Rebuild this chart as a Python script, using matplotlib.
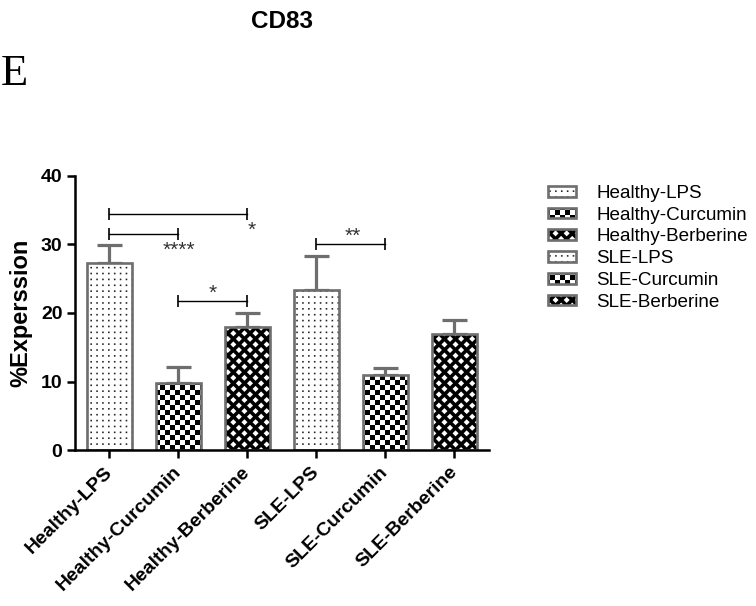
import numpy as np
import matplotlib
matplotlib.use("Agg")
import matplotlib.pyplot as plt
import matplotlib.hatch as mhatch
from matplotlib.path import Path
from matplotlib import colors as mcolors

# data
groups = ["Healthy-LPS", "Healthy-Curcumin", "Healthy-Berberine",
          "SLE-LPS", "SLE-Curcumin", "SLE-Berberine"]
means = [27.3, 9.8, 18.0, 23.4, 11.0, 16.9]
errs = [2.6, 2.3, 2.0, 4.9, 1.0, 2.1]

# significance brackets: (left group, right group, height), labels and where they sit
sig_pairs = [(0, 2, 34.5), (0, 1, 31.5), (1, 2, 21.8), (3, 4, 30.1)]
sig_labels = ["*", "****", "*", "**"]
sig_label_pos = [(2.06, 32.0), (1.0, 29.2), (1.5, 22.9), (3.52, 31.2)]


# custom fills (GraphPad-like patterns) built as hatch paths
def _squares(centers, half):
    return [[(cx - half, cy - half), (cx + half, cy - half),
             (cx + half, cy + half), (cx - half, cy + half)] for cx, cy in centers]


class _PolyHatch(mhatch.HatchPatternBase):
    char = None

    def __init__(self, hatch, density):
        self.polys = self.make() if (hatch and self.char in hatch) else []
        self.num_vertices = 5 * len(self.polys)

    def set_vertices_and_codes(self, vertices, codes):
        pts = np.array(self.polys, dtype=float)
        pts = np.concatenate([pts, pts[:, :1]], axis=1)
        vertices[:] = pts.reshape(-1, 2)
        codes[:] = np.tile([Path.MOVETO, Path.LINETO, Path.LINETO,
                            Path.LINETO, Path.CLOSEPOLY], len(self.polys))


class Dots(_PolyHatch):
    char = "."

    def make(self):
        n = 17
        c = [((i + .5) / n, (j + .5) / n) for i in range(n) for j in range(n)]
        return _squares(c, 0.008)


class Checker(_PolyHatch):
    char = "+"

    def make(self):
        n = 20
        c = [((i + .5) / n, (j + .5) / n) for i in range(n) for j in range(n)
             if (i + j) % 2 == 0]
        return _squares(c, 0.5 / n)


class Diamonds(_PolyHatch):
    char = "x"

    def make(self):
        n, r = 9, 0.03
        c = [(i / n, j / n) for i in range(n + 1) for j in range(n + 1)]
        c += [((i + .5) / n, (j + .5) / n) for i in range(n) for j in range(n)]
        return [[(cx, cy - r), (cx + r, cy), (cx, cy + r), (cx - r, cy)] for cx, cy in c]


mhatch._hatch_types[:] = [Dots, Checker, Diamonds]

plt.rcParams['font.family'] = ['Liberation Sans', 'DejaVu Sans']
plt.rcParams['hatch.linewidth'] = 0.01

hatches = [".", "+", "x", ".", "+", "x"]
faces = ["white", "white", "black", "white", "white", "black"]
hatch_cols = ["#222222", "black", "white", "#222222", "black", "white"]
edge = "#6e6e6e"

fig = plt.figure(figsize=(7.56, 6.06), dpi=100)
ax = fig.add_axes([0.0992, 0.2574, 0.5476, 0.4522])

x = np.arange(len(groups))
ax.errorbar(x, means, yerr=[np.zeros(len(errs)), errs], fmt='none',
            ecolor=edge, elinewidth=2.3, capsize=9, capthick=2.3, zorder=1)
for i, name in enumerate(groups):
    b = ax.bar(x[i], means[i], width=0.65, color=faces[i], edgecolor=edge,
               linewidth=1.9, hatch=hatches[i], label=name, zorder=2)
    for p in b:
        p._hatch_color = mcolors.to_rgba(hatch_cols[i])

for (a, b, h), lab, (tx, ty) in zip(sig_pairs, sig_labels, sig_label_pos):
    ax.plot([a, b], [h, h], color='black', lw=1.0, marker='|',
            markersize=9, mew=1.2, zorder=3)
    ax.text(tx, ty, lab, ha='center', va='center', fontsize=15, color='#333333')

ax.set_xlim(-0.5, 5.5)
ax.set_ylim(0, 40)
ax.set_yticks([0, 10, 20, 30, 40])
ax.set_xticks(x)
ax.set_xticklabels(groups, rotation=45, ha='right', va='center',
                   rotation_mode='anchor', fontweight='bold', fontsize=14)
for t in ax.get_yticklabels():
    t.set_fontweight('bold')
    t.set_fontsize(14)
ax.tick_params(axis='both', width=1.8, length=6, direction='out', pad=3)
ax.tick_params(axis='x', pad=8)
for s in ['top', 'right']:
    ax.spines[s].set_visible(False)
for s in ['left', 'bottom']:
    ax.spines[s].set_linewidth(1.8)

ax.set_ylabel("%Experssion", fontsize=17, fontweight='bold')
ax.yaxis.set_label_coords(-0.104, 0.5)

ax.legend(loc='upper left', bbox_to_anchor=(548 / 756, 1 - 185 / 606),
          bbox_transform=fig.transFigure, frameon=False, fontsize=13.6,
          handlelength=1.5, handleheight=0.5, labelspacing=0.25,
          handletextpad=1.05, borderpad=0, borderaxespad=0)

fig.text(282 / 756, 1 - 22 / 606, "CD83", ha='center', va='center',
         fontsize=17.5, fontweight='bold')
fig.text(1 / 756, 1 - 85 / 606, "E", ha='left', va='baseline',
         fontsize=32, family='Liberation Serif')

fig.savefig("out.png", dpi=100)
